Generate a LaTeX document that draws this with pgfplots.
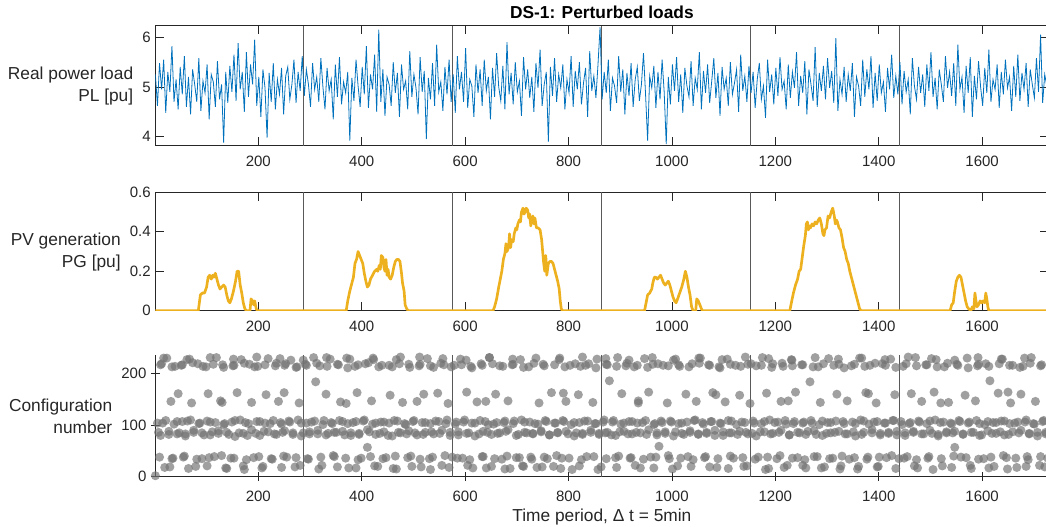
\documentclass[border=0pt]{standalone}
\usepackage{fontspec}
\setmainfont{Liberation Sans}
\usepackage{pgfplots}
\pgfplotsset{compat=1.18}
\definecolor{mblue}{RGB}{0,114,189}
\definecolor{myellow}{RGB}{237,177,32}
\definecolor{maxis}{RGB}{38,38,38}
\pgfplotsset{
 common/.style={
  scale only axis, width=669.7pt, xmin=1, xmax=1728,
  xtick={200,400,...,1600},
  tick align=inside, major tick length=6.5pt,
  axis line style={maxis, line width=0.5pt},
  every tick/.style={maxis, line width=0.5pt},
  tick label style={font=\fontsize{11.25}{13}\selectfont, text=maxis},
  xticklabel style={yshift=-4pt},
  /pgf/number format/assume math mode=true,
  /pgf/number format/1000 sep={},
  label style={font=\fontsize{13}{16.5}\selectfont, text=maxis},
  ylabel style={at={(ticklabel cs:0.5)}, rotate=-90, anchor=east, align=right},
  xlabel style={yshift=5pt},
  extra x ticks={288,576,864,1152,1440},
  extra x tick labels={},
  extra x tick style={grid=major, major grid style={black!65, line width=0.5pt}, major tick length=0pt},
  anchor=south west,
 },
 cfg/.style={only marks, mark=*, mark size=3.4pt, color=black!55, mark options={fill=black!55, fill opacity=0.68, draw opacity=0}},
}
\begin{document}
\begin{tikzpicture}
\useasboundingbox (0,0) rectangle (784.5pt,395.25pt);
% ---------------- top
\begin{axis}[common, at={(116.55pt,285.98pt)}, height=90pt,
  ymin=3.82, ymax=6.23, ytick={4,5,6},
  ylabel={Real power load\\PL [pu]},
  title={DS-1: Perturbed loads},
  title style={font=\bfseries\fontsize{13}{15}\selectfont, text=black, yshift=-4pt},
]
\addplot[mblue, line width=0.6pt] coordinates {
(1,5.25) (5,4.62) (9,5.48) (13,4.95) (17,5.55) (21,4.48) (25,5.30) (29,4.90) (33,5.82) (37,4.70) (41,5.15) (45,4.55)
(49,5.40) (53,4.85) (57,5.62) (61,4.60) (65,5.20) (69,4.45) (73,5.35) (77,5.05) (81,4.70) (85,5.58) (89,4.52) (93,5.12)
(97,4.88) (101,5.45) (105,4.35) (109,5.25) (113,5.10) (117,4.60) (121,5.52) (125,4.75) (129,5.05) (133,3.88) (137,5.30) (141,4.68)
(145,5.42) (149,4.90) (153,5.65) (157,4.72) (161,5.88) (165,4.95) (169,5.30) (173,4.50) (177,5.70) (181,4.80) (185,5.45) (189,5.05)
(193,5.95) (197,4.62) (201,5.20) (205,4.40) (209,5.35) (213,4.98) (217,3.98) (221,5.28) (225,4.70) (229,5.48) (233,4.55) (237,5.15)
(241,4.85) (245,5.38) (249,4.45) (253,5.22) (257,5.40) (261,4.75) (265,5.05) (269,5.55) (273,4.68) (277,5.30) (281,4.92) (285,5.62)
(289,4.82) (293,5.35) (297,5.05) (301,4.60) (305,5.48) (309,4.95) (313,5.20) (317,4.70) (321,5.58) (325,5.00) (329,4.55) (333,5.38)
(337,4.92) (341,5.15) (345,4.35) (349,5.45) (353,4.80) (357,5.60) (361,4.65) (365,5.10) (369,4.88) (373,5.30) (377,3.92) (381,5.18)
(385,4.72) (389,5.55) (393,5.02) (397,4.60) (401,5.40) (405,4.85) (409,5.82) (413,4.58) (417,5.25) (421,4.95) (425,5.65) (429,4.50)
(433,6.15) (437,4.70) (441,5.35) (445,4.42) (449,5.20) (453,5.05) (457,4.62) (461,5.50) (465,4.88) (469,5.28) (473,4.40) (477,5.45)
(481,4.95) (485,5.12) (489,4.55) (493,5.72) (497,4.80) (501,5.25) (505,4.98) (509,4.45) (513,5.60) (517,4.90) (521,5.32) (525,3.95)
(529,5.18) (533,4.75) (537,5.48) (541,4.62) (545,5.85) (549,4.90) (553,5.10) (557,4.52) (561,5.40) (565,4.85) (569,5.55) (573,4.70)
(577,5.25) (581,4.48) (585,5.62) (589,4.95) (593,5.30) (597,4.70) (601,5.78) (605,4.58) (609,5.15) (613,5.02) (617,4.40) (621,5.45)
(625,4.88) (629,5.35) (633,4.62) (637,5.55) (641,4.92) (645,5.20) (649,4.35) (653,5.38) (657,4.80) (661,5.68) (665,5.00) (669,4.72)
(673,5.42) (677,4.55) (681,5.90) (685,4.85) (689,5.28) (693,4.65) (697,5.50) (701,4.90) (705,5.12) (709,4.42) (713,5.60) (717,4.95)
(721,5.35) (725,4.78) (729,5.20) (733,4.50) (737,5.48) (741,4.98) (745,5.75) (749,4.62) (753,5.05) (757,5.30) (761,3.90) (765,5.40)
(769,4.82) (773,5.58) (777,4.70) (781,5.25) (785,4.98) (789,5.45) (793,4.55) (797,5.15) (801,4.88) (805,5.62) (809,4.60) (813,5.32)
(817,4.95) (821,5.50) (825,4.65) (829,5.08) (833,5.38) (837,4.40) (841,5.72) (845,4.92) (849,5.22) (853,4.78) (857,5.45) (861,6.20)
(865,4.75) (869,5.30) (873,4.88) (877,5.55) (881,4.52) (885,5.18) (889,5.02) (893,4.68) (897,5.62) (901,4.90) (905,5.35) (909,4.45)
(913,5.28) (917,4.82) (921,5.48) (925,4.60) (929,5.15) (933,5.40) (937,4.72) (941,5.05) (945,5.68) (949,4.85) (953,3.92) (957,5.22)
(961,4.98) (965,5.42) (969,4.58) (973,5.30) (977,4.75) (981,5.55) (985,4.90) (989,3.85) (993,5.20) (997,4.65) (1001,5.45) (1005,4.92)
(1009,5.60) (1013,4.70) (1017,5.25) (1021,4.48) (1025,5.38) (1029,5.02) (1033,4.80) (1037,5.52) (1041,4.62) (1045,5.18) (1049,4.95) (1053,5.70)
(1057,4.55) (1061,5.32) (1065,4.88) (1069,5.45) (1073,4.68) (1077,5.12) (1081,5.58) (1085,4.78) (1089,5.28) (1093,4.42) (1097,5.40) (1101,4.95)
(1105,5.18) (1109,4.62) (1113,5.50) (1117,4.85) (1121,5.08) (1125,5.35) (1129,4.50) (1133,5.65) (1137,4.92) (1141,5.22) (1145,4.70) (1149,5.42)
(1153,4.88) (1157,5.30) (1161,4.58) (1165,5.15) (1169,5.48) (1173,4.75) (1177,5.02) (1181,4.38) (1185,5.55) (1189,4.90) (1193,5.25) (1197,4.65)
(1201,5.38) (1205,4.82) (1209,5.60) (1213,4.95) (1217,5.12) (1221,4.55) (1225,5.45) (1229,4.78) (1233,5.30) (1237,4.98) (1241,5.70) (1245,4.62)
(1249,5.22) (1253,4.88) (1257,5.52) (1261,4.45) (1265,5.35) (1269,5.05) (1273,4.72) (1277,5.80) (1281,4.60) (1285,5.28) (1289,4.92) (1293,5.42)
(1297,4.75) (1301,5.58) (1305,4.98) (1309,5.32) (1313,4.68) (1317,5.98) (1321,4.52) (1325,5.15) (1329,4.85) (1333,5.40) (1337,4.70) (1341,5.25)
(1345,4.92) (1349,5.48) (1353,4.40) (1357,5.20) (1361,5.02) (1365,4.62) (1369,5.55) (1373,4.80) (1377,5.35) (1381,4.95) (1385,5.62) (1389,4.58)
(1393,5.28) (1397,4.72) (1401,5.45) (1405,4.88) (1409,5.10) (1413,4.50) (1417,5.38) (1421,4.95) (1425,5.65) (1429,4.78) (1433,5.22) (1437,4.85)
(1441,5.50) (1445,4.65) (1449,5.32) (1453,4.90) (1457,5.15) (1461,4.45) (1465,5.58) (1469,5.02) (1473,4.75) (1477,5.40) (1481,4.88) (1485,5.25)
(1489,4.60) (1493,5.45) (1497,4.92) (1501,5.70) (1505,4.80) (1509,5.18) (1513,4.55) (1517,5.35) (1521,5.05) (1525,4.70) (1529,5.62) (1533,4.98)
(1537,5.30) (1541,4.82) (1545,5.48) (1549,4.62) (1553,5.85) (1557,4.95) (1561,5.20) (1565,4.48) (1569,5.42) (1573,4.88) (1577,5.60) (1581,4.40)
(1585,5.22) (1589,4.75) (1593,5.52) (1597,5.00) (1601,4.62) (1605,5.38) (1609,4.88) (1613,5.75) (1617,4.70) (1621,5.15) (1625,4.95) (1629,5.45)
(1633,4.58) (1637,5.30) (1641,4.85) (1645,5.55) (1649,4.98) (1653,5.20) (1657,4.52) (1661,5.42) (1665,4.80) (1669,5.65) (1673,4.72) (1677,5.28)
(1681,4.95) (1685,5.48) (1689,4.60) (1693,5.35) (1697,5.05) (1701,4.78) (1705,5.58) (1709,4.90) (1713,6.05) (1717,4.68) (1721,5.25) (1725,5.02) (1728,5.10)
};
\end{axis}
% ---------------- middle
\begin{axis}[common, at={(116.55pt,162.2pt)}, height=88.8pt,
  ymin=0, ymax=0.6, ytick={0,0.2,0.4,0.6},
  ylabel={PV generation\\PG [pu]},
]
\addplot[myellow, line width=2pt, line join=round] coordinates {
(1,0) (84,0) (86,0.04) (88,0.08) (92,0.09) (96,0.09) (100,0.12) (103,0.17) (106,0.18) (109,0.16) (112,0.18) (114,0.17) (117,0.19) (120,0.16) (123,0.13) (126,0.11) (129,0.12) (133,0.13) (136,0.12) (139,0.08) (142,0.05) (145,0.04) (148,0.06) (152,0.1) (156,0.15) (159,0.2) (162,0.2) (165,0.13) (168,0.09) (171,0.04) (174,0.01) (177,0) (184,0) (186,0.06) (189,0.05) (191,0.03) (193,0.05) (196,0.01) (198,0)
(370,0) (373,0.05) (377,0.1) (381,0.14) (384,0.17) (387,0.24) (390,0.26) (393,0.3) (396,0.28) (399,0.26) (402,0.24) (405,0.19) (408,0.15) (411,0.12) (414,0.13) (417,0.16) (421,0.18) (425,0.2) (429,0.21) (431,0.2) (434,0.23) (436,0.21) (438,0.28) (441,0.27) (443,0.22) (445,0.2) (447,0.26) (449,0.18) (451,0.21) (453,0.17) (456,0.16) (459,0.18) (462,0.22) (465,0.25) (468,0.26) (471,0.26) (474,0.25) (477,0.19) (479,0.14) (482,0.1) (484,0.03) (487,0.01) (490,0)
(654,0) (657,0.02) (661,0.06) (665,0.12) (668,0.16) (671,0.2) (674,0.26) (677,0.29) (679,0.34) (681,0.3) (684,0.32) (686,0.39) (688,0.32) (690,0.36) (693,0.35) (695,0.39) (698,0.42) (700,0.41) (702,0.44) (705,0.46) (707,0.45) (709,0.5) (712,0.52) (714,0.49) (716,0.5) (718,0.52) (721,0.51) (723,0.47) (725,0.49) (727,0.43) (729,0.46) (731,0.48) (733,0.44) (735,0.47) (738,0.42) (741,0.42) (745,0.41) (748,0.36) (750,0.3) (752,0.24) (754,0.2) (756,0.28) (758,0.18) (761,0.24) (764,0.25) (767,0.25) (770,0.24) (773,0.21) (776,0.18) (779,0.15) (782,0.11) (784,0.05) (786,0.01) (788,0)
(947,0) (950,0.04) (953,0.08) (957,0.09) (961,0.11) (963,0.14) (966,0.17) (969,0.17) (972,0.16) (975,0.17) (978,0.18) (981,0.16) (984,0.14) (987,0.13) (990,0.14) (993,0.15) (996,0.13) (999,0.1) (1002,0.07) (1005,0.05) (1008,0.04) (1011,0.06) (1015,0.09) (1019,0.12) (1023,0.16) (1026,0.2) (1029,0.17) (1032,0.12) (1035,0.08) (1038,0.02) (1041,0) (1046,0) (1048,0.06) (1051,0.05) (1054,0.03) (1057,0.01) (1059,0)
(1228,0) (1231,0.04) (1235,0.09) (1239,0.13) (1243,0.16) (1246,0.2) (1249,0.21) (1252,0.27) (1255,0.33) (1258,0.38) (1260,0.44) (1262,0.45) (1264,0.41) (1266,0.43) (1268,0.42) (1271,0.44) (1274,0.43) (1277,0.45) (1280,0.44) (1283,0.46) (1286,0.47) (1289,0.44) (1292,0.39) (1294,0.38) (1296,0.41) (1299,0.42) (1302,0.48) (1305,0.47) (1308,0.5) (1311,0.52) (1314,0.48) (1316,0.44) (1318,0.46) (1320,0.45) (1323,0.42) (1326,0.41) (1329,0.37) (1332,0.32) (1335,0.3) (1338,0.26) (1341,0.24) (1344,0.2) (1348,0.16) (1352,0.12) (1356,0.08) (1360,0.04) (1363,0.01) (1366,0)
(1538,0) (1541,0.03) (1544,0.04) (1547,0.1) (1550,0.15) (1553,0.17) (1556,0.18) (1559,0.17) (1562,0.13) (1565,0.09) (1568,0.05) (1571,0.02) (1574,0.01) (1578,0) (1581,0.02) (1584,0.01) (1586,0.09) (1588,0.05) (1590,0.02) (1593,0.03) (1596,0.05) (1599,0.04) (1602,0.05) (1605,0.04) (1607,0.09) (1609,0.06) (1611,0.02) (1613,0) (1728,0)
};
\end{axis}
% ---------------- bottom
\begin{axis}[common, at={(116.55pt,37.7pt)}, height=91.3pt,
  ymin=0, ymax=236, ytick={0,100,200},
  axis x line=bottom, axis y line=left, axis line style={-},
  clip=false,
  ylabel={Configuration\\number},
  xlabel={Time period, Δ t = 5min},
]
\addplot[cfg] coordinates {
(1,2) (7,86) (11,217) (15,104) (19,18) (23,230) (27,82) (31,146) (35,36) (39,214) (43,107) (47,85)
(51,216) (55,38) (59,83) (63,108) (67,228) (71,143) (75,86) (79,20) (83,219) (87,104) (91,35) (95,81)
(99,213) (103,161) (107,106) (111,87) (115,39) (119,231) (123,84) (127,147) (131,217) (135,103) (139,16) (143,82)
(147,36) (151,215) (155,109) (159,163) (163,85) (167,227) (171,21) (175,105) (179,80) (183,218) (187,144) (191,37)
(195,84) (199,214) (203,107) (207,17) (211,88) (215,159) (219,229) (223,103) (227,34) (231,83) (235,220) (239,146)
(243,105) (247,86) (251,216) (255,38) (259,108) (263,226) (267,82) (271,19) (275,213) (279,143) (283,104) (287,85)
(291,218) (295,35) (299,87) (303,106) (307,231) (311,184) (315,83) (319,215) (323,22) (327,109) (331,160) (335,84)
(339,228) (343,103) (347,39) (351,86) (355,217) (359,145) (363,107) (367,81) (371,230) (375,17) (379,85) (383,105)
(387,214) (391,163) (395,82) (399,36) (403,108) (407,219) (411,57) (415,87) (419,147) (423,227) (427,104) (431,20)
(435,84) (439,216) (443,106) (447,37) (451,80) (455,158) (459,213) (463,109) (467,15) (471,86) (475,232) (479,144)
(483,103) (487,83) (491,218) (495,40) (499,107) (503,85) (507,146) (511,215) (515,19) (519,82) (523,105) (527,229)
(531,35) (535,87) (539,212) (543,108) (547,162) (551,84) (555,22) (559,217) (563,103) (567,142) (571,86) (575,38)
(579,216) (583,106) (587,81) (591,228) (595,36) (599,110) (603,164) (607,85) (611,214) (615,17) (619,104) (623,145)
(627,83) (631,219) (635,39) (639,107) (643,86) (647,231) (651,20) (655,102) (659,160) (663,84) (667,215) (671,34)
(675,105) (679,88) (683,147) (687,16) (691,217) (695,108) (699,37) (703,82) (707,227) (711,21) (715,106) (719,85)
(723,213) (727,38) (731,84) (735,103) (739,18) (743,143) (747,87) (751,218) (755,109) (759,35) (763,81) (767,163)
(771,20) (775,104) (779,86) (783,230) (787,36) (791,107) (795,146) (799,83) (803,216) (807,14) (811,105) (815,85)
(819,159) (823,214) (827,82) (831,108) (835,39) (839,219) (843,86) (847,144) (851,103) (855,228) (859,84) (863,19)
(867,106) (871,85) (875,217) (879,186) (883,81) (887,109) (891,37) (895,231) (899,87) (903,161) (907,104) (911,215)
(915,83) (919,36) (923,107) (927,213) (931,86) (935,147) (939,17) (943,105) (947,229) (951,82) (955,164) (959,38)
(963,218) (967,103) (971,85) (975,59) (979,108) (983,216) (987,84) (991,143) (995,35) (999,106) (1003,226) (1007,87)
(1011,21) (1015,214) (1019,104) (1023,82) (1027,160) (1031,39) (1035,86) (1039,219) (1043,109) (1047,146) (1051,83) (1055,230)
(1059,105) (1063,37) (1067,84) (1071,217) (1075,107) (1079,163) (1083,80) (1087,18) (1091,213) (1095,103) (1099,87) (1103,145)
(1107,228) (1111,85) (1115,108) (1119,36) (1123,216) (1127,82) (1131,158) (1135,106) (1139,20) (1143,86) (1147,218) (1151,142)
(1155,84) (1159,104) (1163,215) (1167,38) (1171,87) (1175,231) (1179,107) (1183,162) (1187,16) (1191,83) (1195,219) (1199,105)
(1203,35) (1207,86) (1211,146) (1215,214) (1219,109) (1223,22) (1227,81) (1231,227) (1235,103) (1239,164) (1243,37) (1247,85)
(1251,217) (1255,106) (1259,17) (1263,88) (1267,184) (1271,104) (1275,39) (1279,82) (1283,213) (1287,144) (1291,108) (1295,19)
(1299,84) (1303,229) (1307,105) (1311,36) (1315,86) (1319,160) (1323,218) (1327,21) (1331,107) (1335,83) (1339,147) (1343,34)
(1347,215) (1351,87) (1355,103) (1359,15) (1363,230) (1367,82) (1371,108) (1375,163) (1379,38) (1383,216) (1387,85) (1391,106)
(1395,143) (1399,20) (1403,84) (1407,219) (1411,104) (1415,37) (1419,86) (1423,228) (1427,109) (1431,159) (1435,81) (1439,35)
(1443,107) (1447,214) (1451,85) (1455,39) (1459,103) (1463,161) (1467,88) (1471,231) (1475,17) (1479,106) (1483,146) (1487,83)
(1491,217) (1495,36) (1499,108) (1503,84) (1507,164) (1511,227) (1515,82) (1519,105) (1523,21) (1527,213) (1531,87) (1535,144)
(1539,104) (1543,85) (1547,57) (1551,218) (1555,109) (1559,38) (1563,83) (1567,158) (1571,230) (1575,106) (1579,16) (1583,86)
(1587,147) (1591,215) (1595,103) (1599,81) (1603,35) (1607,219) (1611,107) (1615,186) (1619,84) (1623,20) (1627,105) (1631,162)
(1635,87) (1639,228) (1643,108) (1647,37) (1651,82) (1655,143) (1659,216) (1663,104) (1667,18) (1671,85) (1675,160) (1679,214)
(1683,106) (1687,39) (1691,84) (1695,231) (1699,103) (1703,146) (1707,86) (1711,22) (1715,217) (1719,109) (1723,83) (1727,36)
};
\addplot[cfg] coordinates {
(11,80) (27,88) (43,83) (59,79) (75,90) (91,85) (107,81) (123,89) (139,86) (155,78) (171,84) (187,91) (203,80) (219,87) (235,82) (251,89) (267,85) (283,79) (299,83) (315,90) (331,81) (347,86) (363,88) (379,80) (395,84) (411,91) (427,82) (443,87) (459,79) (475,85) (491,89) (507,81) (523,86) (539,83) (555,90) (571,80) (587,87) (603,84) (619,79) (635,88) (651,82) (667,85) (683,91) (699,80) (715,86) (731,83) (747,89) (763,81) (779,85) (795,88) (811,79) (827,84) (843,90) (859,82) (875,86) (891,80) (907,88) (923,83) (939,85) (955,91) (971,81) (987,87) (1003,79) (1019,84) (1035,89) (1051,82) (1067,86) (1083,90) (1099,80) (1115,85) (1131,88) (1147,83) (1163,79) (1179,87) (1195,84) (1211,90) (1227,81) (1243,86) (1259,82) (1275,89) (1291,80) (1307,85) (1323,88) (1339,83) (1355,79) (1371,86) (1387,91) (1403,81) (1419,84) (1435,88) (1451,80) (1467,86) (1483,83) (1499,90) (1515,79) (1531,85) (1547,88) (1563,82) (1579,86) (1595,80) (1611,89) (1627,84) (1643,81) (1659,87) (1675,90) (1691,83) (1707,79) (1723,86)
(5,104) (21,109) (37,102) (53,107) (69,110) (85,103) (101,108) (117,105) (133,101) (149,106) (165,110) (181,103) (197,107) (213,104) (229,109) (245,102) (261,106) (277,110) (293,104) (309,108) (325,101) (341,105) (357,109) (373,103) (389,107) (405,110) (421,102) (437,106) (453,104) (469,108) (485,101) (501,109) (517,105) (533,103) (549,107) (565,110) (581,102) (597,106) (613,104) (629,109) (645,101) (661,105) (677,108) (693,103) (709,110) (725,106) (741,102) (757,107) (773,104) (789,109) (805,101) (821,105) (837,108) (853,103) (869,110) (885,106) (901,102) (917,107) (933,104) (949,109) (965,101) (981,105) (997,108) (1013,103) (1029,106) (1045,110) (1061,102) (1077,107) (1093,104) (1109,109) (1125,101) (1141,105) (1157,108) (1173,103) (1189,110) (1205,106) (1221,102) (1237,107) (1253,104) (1269,109) (1285,101) (1301,105) (1317,108) (1333,103) (1349,106) (1365,110) (1381,102) (1397,107) (1413,104) (1429,109) (1445,101) (1461,105) (1477,108) (1493,103) (1509,110) (1525,106) (1541,102) (1557,107) (1573,104) (1589,109) (1605,101) (1621,105) (1637,108) (1653,103) (1669,106) (1685,110) (1701,102) (1717,107)
(13,219) (33,213) (53,217) (73,221) (93,214) (113,218) (133,212) (153,216) (173,220) (193,213) (213,217) (233,215) (253,219) (273,212) (293,216) (313,220) (333,214) (353,218) (373,211) (393,217) (413,221) (433,213) (453,216) (473,219) (493,212) (513,218) (533,215) (553,220) (573,213) (593,217) (613,211) (633,216) (653,219) (673,214) (693,218) (713,212) (733,220) (753,215) (773,217) (793,213) (813,219) (833,216) (853,211) (873,218) (893,214) (913,220) (933,216) (953,212) (973,219) (993,215) (1013,217) (1033,213) (1053,220) (1073,216) (1093,211) (1113,218) (1133,214) (1153,219) (1173,216) (1193,212) (1213,220) (1233,215) (1253,217) (1273,213) (1293,219) (1313,216) (1333,211) (1353,218) (1373,214) (1393,220) (1413,216) (1433,212) (1453,219) (1473,215) (1493,217) (1513,213) (1533,220) (1553,216) (1573,211) (1593,218) (1613,214) (1633,219) (1653,216) (1673,212) (1693,220) (1713,215)
(17,230) (62,227) (107,231) (152,228) (197,232) (242,229) (287,226) (332,231) (377,228) (422,230) (467,227) (512,232) (557,229) (602,226) (647,231) (692,228) (737,230) (782,227) (827,232) (872,229) (917,226) (962,231) (1007,228) (1052,230) (1097,227) (1142,232) (1187,229) (1232,226) (1277,231) (1322,228) (1367,230) (1412,227) (1457,232) (1502,229) (1547,226) (1592,231) (1637,228) (1682,230)
(9,38) (33,35) (57,40) (81,34) (105,37) (129,41) (153,36) (177,33) (201,39) (225,35) (249,40) (273,37) (297,34) (321,38) (345,41) (369,36) (393,33) (417,39) (441,35) (465,40) (489,37) (513,34) (537,38) (561,41) (585,36) (609,33) (633,39) (657,35) (681,40) (705,37) (729,34) (753,38) (777,41) (801,36) (825,33) (849,39) (873,35) (897,40) (921,37) (945,34) (969,38) (993,41) (1017,36) (1041,33) (1065,39) (1089,35) (1113,40) (1137,37) (1161,34) (1185,38) (1209,41) (1233,36) (1257,33) (1281,39) (1305,35) (1329,40) (1353,37) (1377,34) (1401,38) (1425,41) (1449,36) (1473,33) (1497,39) (1521,35) (1545,40) (1569,37) (1593,34) (1617,38) (1641,41) (1665,36) (1689,33) (1713,39)
(29,19) (65,16) (101,21) (137,17) (173,14) (209,20) (245,18) (281,22) (317,15) (353,19) (389,17) (425,21) (461,16) (497,20) (533,14) (569,18) (605,22) (641,17) (677,15) (713,20) (749,19) (785,16) (821,21) (857,14) (893,18) (929,22) (965,17) (1001,15) (1037,20) (1073,19) (1109,16) (1145,21) (1181,14) (1217,18) (1253,22) (1289,17) (1325,15) (1361,20) (1397,19) (1433,16) (1469,21) (1505,14) (1541,18) (1577,22) (1613,17) (1649,15) (1685,20) (1721,19)
(45,161) (130,144) (250,163) (370,142) (520,160) (640,146) (790,162) (935,143) (1085,159) (1225,147) (1380,161) (1520,143) (1650,164)
};
\end{axis}
\end{tikzpicture}
\end{document}
